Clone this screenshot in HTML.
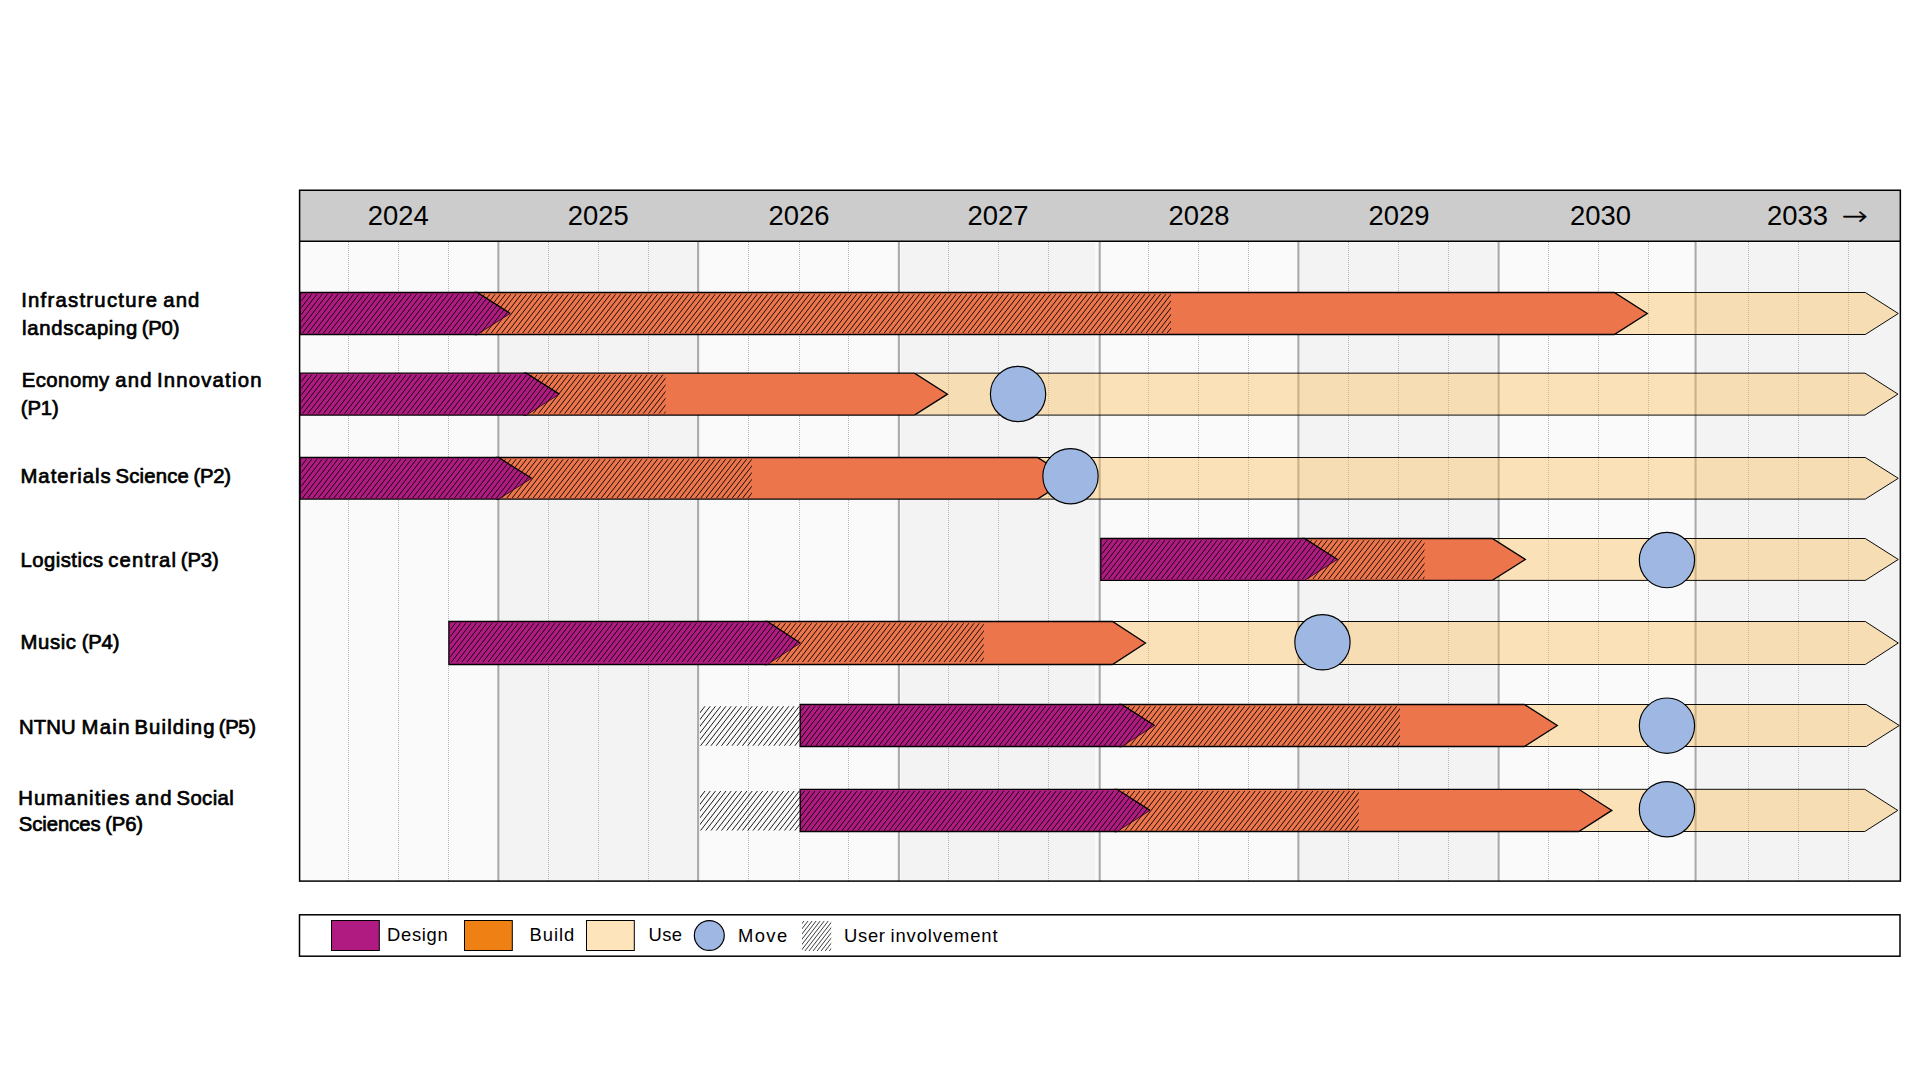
<!DOCTYPE html>
<html lang="en">
<head>
<meta charset="utf-8">
<title>Project timeline</title>
<style>
html,body{margin:0;padding:0;background:#fff;}
body{width:1920px;height:1080px;overflow:hidden;}
svg{display:block;position:absolute;left:0;top:0;}
text{font-family:"Liberation Sans",sans-serif;fill:#000;}
.lbl{font-size:20.3px;stroke:#000;stroke-width:.7px;}
.yr{font-size:27.4px;}
.lg{font-size:18.4px;}
.use{fill-opacity:.4;}
</style>
</head>
<body>
<svg width="1920" height="1080" viewBox="0 0 1920 1080">
<defs>
</defs>
<rect x="299.5" y="190.25" width="1601" height="690.8" fill="#fafafa"/>
<rect x="500.1" y="243" width="196.7" height="638" fill="#f3f3f3"/>
<rect x="901" y="243" width="194.0" height="638" fill="#f3f3f3"/>
<rect x="1299.6" y="243" width="196.9" height="638" fill="#f3f3f3"/>
<rect x="1697.5" y="243" width="202.5" height="638" fill="#f3f3f3"/>
<g stroke="#b4b4b4" stroke-width="1" stroke-dasharray="1 1" fill="none">
<path d="M348.5,242V881"/>
<path d="M398.5,242V881"/>
<path d="M448.5,242V881"/>
<path d="M548.5,242V881"/>
<path d="M598.5,242V881"/>
<path d="M648.5,242V881"/>
<path d="M748.5,242V881"/>
<path d="M799.5,242V881"/>
<path d="M848.5,242V881"/>
<path d="M948.5,242V881"/>
<path d="M998.5,242V881"/>
<path d="M1048.5,242V881"/>
<path d="M1148.5,242V881"/>
<path d="M1198.5,242V881"/>
<path d="M1248.5,242V881"/>
<path d="M1348.5,242V881"/>
<path d="M1398.5,242V881"/>
<path d="M1448.5,242V881"/>
<path d="M1548.5,242V881"/>
<path d="M1598.5,242V881"/>
<path d="M1648.5,242V881"/>
<path d="M1748.5,242V881"/>
<path d="M1798.5,242V881"/>
<path d="M1848.5,242V881"/>
</g>
<g stroke="#aaaaaa" stroke-width="2.1" fill="none">
<path d="M498.4,242V881"/>
<path d="M698.1,242V881"/>
<path d="M898.9,242V881"/>
<path d="M1099.7,242V881"/>
<path d="M1298.4,242V881"/>
<path d="M1498.6,242V881"/>
<path d="M1695.6,242V881"/>
</g>
<g>
<path class="use" d="M1615.3,292.5H1865.3L1898.3,313.5L1865.3,334.5H1615.3Z" fill="#fabc55" stroke="#000" stroke-width="0.95" stroke-linejoin="miter"/>
<path d="M475.2,292.5H1614.3L1647.3,313.5L1614.3,334.5H475.2Z" fill="#ec754c" stroke="#000" stroke-width="1.3" stroke-linejoin="miter"/>
<path d="M300,292.5H477.2L510.2,313.5L477.2,334.5H300Z" fill="#b01b81"/><path d="M510.2,313.5L477.2,334.5" fill="none" stroke="#2a001e" stroke-width="0.8"/><path d="M477.2,334.5H300V292.5H477.2L510.2,313.5" fill="none" stroke="#000" stroke-width="1.3" stroke-linejoin="miter"/>
<clipPath id="hc0"><rect x="301.40" y="294.15" width="869.60" height="38.80"/></clipPath><path clip-path="url(#hc0)" d="M270.38,333.95L302.06,293.15M275.62,333.95L307.30,293.15M280.86,333.95L312.54,293.15M286.10,333.95L317.78,293.15M291.34,333.95L323.02,293.15M296.58,333.95L328.26,293.15M301.82,333.95L333.50,293.15M307.06,333.95L338.74,293.15M312.30,333.95L343.98,293.15M317.54,333.95L349.22,293.15M322.78,333.95L354.46,293.15M328.02,333.95L359.70,293.15M333.26,333.95L364.94,293.15M338.50,333.95L370.18,293.15M343.74,333.95L375.42,293.15M348.98,333.95L380.66,293.15M354.22,333.95L385.90,293.15M359.46,333.95L391.14,293.15M364.70,333.95L396.38,293.15M369.94,333.95L401.62,293.15M375.18,333.95L406.86,293.15M380.42,333.95L412.10,293.15M385.66,333.95L417.34,293.15M390.90,333.95L422.58,293.15M396.14,333.95L427.82,293.15M401.38,333.95L433.06,293.15M406.62,333.95L438.30,293.15M411.86,333.95L443.54,293.15M417.10,333.95L448.78,293.15M422.34,333.95L454.02,293.15M427.58,333.95L459.26,293.15M432.82,333.95L464.50,293.15M438.06,333.95L469.74,293.15M443.30,333.95L474.98,293.15M448.54,333.95L480.22,293.15M453.78,333.95L485.46,293.15M459.02,333.95L490.70,293.15M464.26,333.95L495.94,293.15M469.50,333.95L501.18,293.15M474.74,333.95L506.42,293.15M479.98,333.95L511.66,293.15M485.22,333.95L516.90,293.15M490.46,333.95L522.14,293.15M495.70,333.95L527.38,293.15M500.94,333.95L532.62,293.15M506.18,333.95L537.86,293.15M511.42,333.95L543.10,293.15M516.66,333.95L548.34,293.15M521.90,333.95L553.58,293.15M527.14,333.95L558.82,293.15M532.38,333.95L564.06,293.15M537.62,333.95L569.30,293.15M542.86,333.95L574.54,293.15M548.10,333.95L579.78,293.15M553.34,333.95L585.02,293.15M558.58,333.95L590.26,293.15M563.82,333.95L595.50,293.15M569.06,333.95L600.74,293.15M574.30,333.95L605.98,293.15M579.54,333.95L611.22,293.15M584.78,333.95L616.46,293.15M590.02,333.95L621.70,293.15M595.26,333.95L626.94,293.15M600.50,333.95L632.18,293.15M605.74,333.95L637.42,293.15M610.98,333.95L642.66,293.15M616.22,333.95L647.90,293.15M621.46,333.95L653.14,293.15M626.70,333.95L658.38,293.15M631.94,333.95L663.62,293.15M637.18,333.95L668.86,293.15M642.42,333.95L674.10,293.15M647.66,333.95L679.34,293.15M652.90,333.95L684.58,293.15M658.14,333.95L689.82,293.15M663.38,333.95L695.06,293.15M668.62,333.95L700.30,293.15M673.86,333.95L705.54,293.15M679.10,333.95L710.78,293.15M684.34,333.95L716.02,293.15M689.58,333.95L721.26,293.15M694.82,333.95L726.50,293.15M700.06,333.95L731.74,293.15M705.30,333.95L736.98,293.15M710.54,333.95L742.22,293.15M715.78,333.95L747.46,293.15M721.02,333.95L752.70,293.15M726.26,333.95L757.94,293.15M731.50,333.95L763.18,293.15M736.74,333.95L768.42,293.15M741.98,333.95L773.66,293.15M747.22,333.95L778.90,293.15M752.46,333.95L784.14,293.15M757.70,333.95L789.38,293.15M762.94,333.95L794.62,293.15M768.18,333.95L799.86,293.15M773.42,333.95L805.10,293.15M778.66,333.95L810.34,293.15M783.90,333.95L815.58,293.15M789.14,333.95L820.82,293.15M794.38,333.95L826.06,293.15M799.62,333.95L831.30,293.15M804.86,333.95L836.54,293.15M810.10,333.95L841.78,293.15M815.34,333.95L847.02,293.15M820.58,333.95L852.26,293.15M825.82,333.95L857.50,293.15M831.06,333.95L862.74,293.15M836.30,333.95L867.98,293.15M841.54,333.95L873.22,293.15M846.78,333.95L878.46,293.15M852.02,333.95L883.70,293.15M857.26,333.95L888.94,293.15M862.50,333.95L894.18,293.15M867.74,333.95L899.42,293.15M872.98,333.95L904.66,293.15M878.22,333.95L909.90,293.15M883.46,333.95L915.14,293.15M888.70,333.95L920.38,293.15M893.94,333.95L925.62,293.15M899.18,333.95L930.86,293.15M904.42,333.95L936.10,293.15M909.66,333.95L941.34,293.15M914.90,333.95L946.58,293.15M920.14,333.95L951.82,293.15M925.38,333.95L957.06,293.15M930.62,333.95L962.30,293.15M935.86,333.95L967.54,293.15M941.10,333.95L972.78,293.15M946.34,333.95L978.02,293.15M951.58,333.95L983.26,293.15M956.82,333.95L988.50,293.15M962.06,333.95L993.74,293.15M967.30,333.95L998.98,293.15M972.54,333.95L1004.22,293.15M977.78,333.95L1009.46,293.15M983.02,333.95L1014.70,293.15M988.26,333.95L1019.94,293.15M993.50,333.95L1025.18,293.15M998.74,333.95L1030.42,293.15M1003.98,333.95L1035.66,293.15M1009.22,333.95L1040.90,293.15M1014.46,333.95L1046.14,293.15M1019.70,333.95L1051.38,293.15M1024.94,333.95L1056.62,293.15M1030.18,333.95L1061.86,293.15M1035.42,333.95L1067.10,293.15M1040.66,333.95L1072.34,293.15M1045.90,333.95L1077.58,293.15M1051.14,333.95L1082.82,293.15M1056.38,333.95L1088.06,293.15M1061.62,333.95L1093.30,293.15M1066.86,333.95L1098.54,293.15M1072.10,333.95L1103.78,293.15M1077.34,333.95L1109.02,293.15M1082.58,333.95L1114.26,293.15M1087.82,333.95L1119.50,293.15M1093.06,333.95L1124.74,293.15M1098.30,333.95L1129.98,293.15M1103.54,333.95L1135.22,293.15M1108.78,333.95L1140.46,293.15M1114.02,333.95L1145.70,293.15M1119.26,333.95L1150.94,293.15M1124.50,333.95L1156.18,293.15M1129.74,333.95L1161.42,293.15M1134.98,333.95L1166.66,293.15M1140.22,333.95L1171.90,293.15M1145.46,333.95L1177.14,293.15M1150.70,333.95L1182.38,293.15M1155.94,333.95L1187.62,293.15M1161.18,333.95L1192.86,293.15M1166.42,333.95L1198.10,293.15M1171.66,333.95L1203.34,293.15" stroke="#000" stroke-width="0.9" fill="none"/>
</g>
<g>
<path class="use" d="M915.5,373.15H1865L1898,394.125L1865,415.1H915.5Z" fill="#fabc55" stroke="#000" stroke-width="0.95" stroke-linejoin="miter"/>
<path d="M524.3,373.15H914.5L947.5,394.125L914.5,415.1H524.3Z" fill="#ec754c" stroke="#000" stroke-width="1.3" stroke-linejoin="miter"/>
<path d="M300,373.15H526.3L559.3,394.125L526.3,415.1H300Z" fill="#b01b81"/><path d="M559.3,394.125L526.3,415.1" fill="none" stroke="#2a001e" stroke-width="0.8"/><path d="M526.3,415.1H300V373.15H526.3L559.3,394.125" fill="none" stroke="#000" stroke-width="1.3" stroke-linejoin="miter"/>
<clipPath id="hc1"><rect x="301.40" y="374.80" width="364.10" height="38.80"/></clipPath><path clip-path="url(#hc1)" d="M270.38,414.60L302.06,373.80M275.62,414.60L307.30,373.80M280.86,414.60L312.54,373.80M286.10,414.60L317.78,373.80M291.34,414.60L323.02,373.80M296.58,414.60L328.26,373.80M301.82,414.60L333.50,373.80M307.06,414.60L338.74,373.80M312.30,414.60L343.98,373.80M317.54,414.60L349.22,373.80M322.78,414.60L354.46,373.80M328.02,414.60L359.70,373.80M333.26,414.60L364.94,373.80M338.50,414.60L370.18,373.80M343.74,414.60L375.42,373.80M348.98,414.60L380.66,373.80M354.22,414.60L385.90,373.80M359.46,414.60L391.14,373.80M364.70,414.60L396.38,373.80M369.94,414.60L401.62,373.80M375.18,414.60L406.86,373.80M380.42,414.60L412.10,373.80M385.66,414.60L417.34,373.80M390.90,414.60L422.58,373.80M396.14,414.60L427.82,373.80M401.38,414.60L433.06,373.80M406.62,414.60L438.30,373.80M411.86,414.60L443.54,373.80M417.10,414.60L448.78,373.80M422.34,414.60L454.02,373.80M427.58,414.60L459.26,373.80M432.82,414.60L464.50,373.80M438.06,414.60L469.74,373.80M443.30,414.60L474.98,373.80M448.54,414.60L480.22,373.80M453.78,414.60L485.46,373.80M459.02,414.60L490.70,373.80M464.26,414.60L495.94,373.80M469.50,414.60L501.18,373.80M474.74,414.60L506.42,373.80M479.98,414.60L511.66,373.80M485.22,414.60L516.90,373.80M490.46,414.60L522.14,373.80M495.70,414.60L527.38,373.80M500.94,414.60L532.62,373.80M506.18,414.60L537.86,373.80M511.42,414.60L543.10,373.80M516.66,414.60L548.34,373.80M521.90,414.60L553.58,373.80M527.14,414.60L558.82,373.80M532.38,414.60L564.06,373.80M537.62,414.60L569.30,373.80M542.86,414.60L574.54,373.80M548.10,414.60L579.78,373.80M553.34,414.60L585.02,373.80M558.58,414.60L590.26,373.80M563.82,414.60L595.50,373.80M569.06,414.60L600.74,373.80M574.30,414.60L605.98,373.80M579.54,414.60L611.22,373.80M584.78,414.60L616.46,373.80M590.02,414.60L621.70,373.80M595.26,414.60L626.94,373.80M600.50,414.60L632.18,373.80M605.74,414.60L637.42,373.80M610.98,414.60L642.66,373.80M616.22,414.60L647.90,373.80M621.46,414.60L653.14,373.80M626.70,414.60L658.38,373.80M631.94,414.60L663.62,373.80M637.18,414.60L668.86,373.80M642.42,414.60L674.10,373.80M647.66,414.60L679.34,373.80M652.90,414.60L684.58,373.80M658.14,414.60L689.82,373.80M663.38,414.60L695.06,373.80" stroke="#000" stroke-width="0.9" fill="none"/>
<circle cx="1018.05" cy="393.95" r="27.65" fill="#9fb8e3" stroke="#000" stroke-width="1.15"/>
</g>
<g>
<path class="use" d="M1038.5,457.5H1865.3L1898.3,478.3L1865.3,499.1H1038.5Z" fill="#fabc55" stroke="#000" stroke-width="0.95" stroke-linejoin="miter"/>
<path d="M496.6,457.5H1037.5L1070.5,478.3L1037.5,499.1H496.6Z" fill="#ec754c" stroke="#000" stroke-width="1.3" stroke-linejoin="miter"/>
<path d="M300,457.5H498.6L531.6,478.3L498.6,499.1H300Z" fill="#b01b81"/><path d="M531.6,478.3L498.6,499.1" fill="none" stroke="#2a001e" stroke-width="0.8"/><path d="M498.6,499.1H300V457.5H498.6L531.6,478.3" fill="none" stroke="#000" stroke-width="1.3" stroke-linejoin="miter"/>
<clipPath id="hc2"><rect x="301.40" y="459.15" width="450.40" height="38.80"/></clipPath><path clip-path="url(#hc2)" d="M270.38,498.95L302.06,458.15M275.62,498.95L307.30,458.15M280.86,498.95L312.54,458.15M286.10,498.95L317.78,458.15M291.34,498.95L323.02,458.15M296.58,498.95L328.26,458.15M301.82,498.95L333.50,458.15M307.06,498.95L338.74,458.15M312.30,498.95L343.98,458.15M317.54,498.95L349.22,458.15M322.78,498.95L354.46,458.15M328.02,498.95L359.70,458.15M333.26,498.95L364.94,458.15M338.50,498.95L370.18,458.15M343.74,498.95L375.42,458.15M348.98,498.95L380.66,458.15M354.22,498.95L385.90,458.15M359.46,498.95L391.14,458.15M364.70,498.95L396.38,458.15M369.94,498.95L401.62,458.15M375.18,498.95L406.86,458.15M380.42,498.95L412.10,458.15M385.66,498.95L417.34,458.15M390.90,498.95L422.58,458.15M396.14,498.95L427.82,458.15M401.38,498.95L433.06,458.15M406.62,498.95L438.30,458.15M411.86,498.95L443.54,458.15M417.10,498.95L448.78,458.15M422.34,498.95L454.02,458.15M427.58,498.95L459.26,458.15M432.82,498.95L464.50,458.15M438.06,498.95L469.74,458.15M443.30,498.95L474.98,458.15M448.54,498.95L480.22,458.15M453.78,498.95L485.46,458.15M459.02,498.95L490.70,458.15M464.26,498.95L495.94,458.15M469.50,498.95L501.18,458.15M474.74,498.95L506.42,458.15M479.98,498.95L511.66,458.15M485.22,498.95L516.90,458.15M490.46,498.95L522.14,458.15M495.70,498.95L527.38,458.15M500.94,498.95L532.62,458.15M506.18,498.95L537.86,458.15M511.42,498.95L543.10,458.15M516.66,498.95L548.34,458.15M521.90,498.95L553.58,458.15M527.14,498.95L558.82,458.15M532.38,498.95L564.06,458.15M537.62,498.95L569.30,458.15M542.86,498.95L574.54,458.15M548.10,498.95L579.78,458.15M553.34,498.95L585.02,458.15M558.58,498.95L590.26,458.15M563.82,498.95L595.50,458.15M569.06,498.95L600.74,458.15M574.30,498.95L605.98,458.15M579.54,498.95L611.22,458.15M584.78,498.95L616.46,458.15M590.02,498.95L621.70,458.15M595.26,498.95L626.94,458.15M600.50,498.95L632.18,458.15M605.74,498.95L637.42,458.15M610.98,498.95L642.66,458.15M616.22,498.95L647.90,458.15M621.46,498.95L653.14,458.15M626.70,498.95L658.38,458.15M631.94,498.95L663.62,458.15M637.18,498.95L668.86,458.15M642.42,498.95L674.10,458.15M647.66,498.95L679.34,458.15M652.90,498.95L684.58,458.15M658.14,498.95L689.82,458.15M663.38,498.95L695.06,458.15M668.62,498.95L700.30,458.15M673.86,498.95L705.54,458.15M679.10,498.95L710.78,458.15M684.34,498.95L716.02,458.15M689.58,498.95L721.26,458.15M694.82,498.95L726.50,458.15M700.06,498.95L731.74,458.15M705.30,498.95L736.98,458.15M710.54,498.95L742.22,458.15M715.78,498.95L747.46,458.15M721.02,498.95L752.70,458.15M726.26,498.95L757.94,458.15M731.50,498.95L763.18,458.15M736.74,498.95L768.42,458.15M741.98,498.95L773.66,458.15M747.22,498.95L778.90,458.15M752.46,498.95L784.14,458.15" stroke="#000" stroke-width="0.9" fill="none"/>
<circle cx="1070.5" cy="476.2" r="27.65" fill="#9fb8e3" stroke="#000" stroke-width="1.15"/>
</g>
<g>
<path class="use" d="M1493.3,538.5H1865.3L1898.3,559.45L1865.3,580.4H1493.3Z" fill="#fabc55" stroke="#000" stroke-width="0.95" stroke-linejoin="miter"/>
<path d="M1302.5,538.5H1492.3L1525.3,559.45L1492.3,580.4H1302.5Z" fill="#ec754c" stroke="#000" stroke-width="1.3" stroke-linejoin="miter"/>
<path d="M1100.8,538.5H1304.5L1337.5,559.45L1304.5,580.4H1100.8Z" fill="#b01b81"/><path d="M1337.5,559.45L1304.5,580.4" fill="none" stroke="#2a001e" stroke-width="0.8"/><path d="M1304.5,580.4H1100.8V538.5H1304.5L1337.5,559.45" fill="none" stroke="#000" stroke-width="1.3" stroke-linejoin="miter"/>
<clipPath id="hc3"><rect x="1102.20" y="540.15" width="322.30" height="38.80"/></clipPath><path clip-path="url(#hc3)" d="M1071.18,579.95L1102.86,539.15M1076.42,579.95L1108.10,539.15M1081.66,579.95L1113.34,539.15M1086.90,579.95L1118.58,539.15M1092.14,579.95L1123.82,539.15M1097.38,579.95L1129.06,539.15M1102.62,579.95L1134.30,539.15M1107.86,579.95L1139.54,539.15M1113.10,579.95L1144.78,539.15M1118.34,579.95L1150.02,539.15M1123.58,579.95L1155.26,539.15M1128.82,579.95L1160.50,539.15M1134.06,579.95L1165.74,539.15M1139.30,579.95L1170.98,539.15M1144.54,579.95L1176.22,539.15M1149.78,579.95L1181.46,539.15M1155.02,579.95L1186.70,539.15M1160.26,579.95L1191.94,539.15M1165.50,579.95L1197.18,539.15M1170.74,579.95L1202.42,539.15M1175.98,579.95L1207.66,539.15M1181.22,579.95L1212.90,539.15M1186.46,579.95L1218.14,539.15M1191.70,579.95L1223.38,539.15M1196.94,579.95L1228.62,539.15M1202.18,579.95L1233.86,539.15M1207.42,579.95L1239.10,539.15M1212.66,579.95L1244.34,539.15M1217.90,579.95L1249.58,539.15M1223.14,579.95L1254.82,539.15M1228.38,579.95L1260.06,539.15M1233.62,579.95L1265.30,539.15M1238.86,579.95L1270.54,539.15M1244.10,579.95L1275.78,539.15M1249.34,579.95L1281.02,539.15M1254.58,579.95L1286.26,539.15M1259.82,579.95L1291.50,539.15M1265.06,579.95L1296.74,539.15M1270.30,579.95L1301.98,539.15M1275.54,579.95L1307.22,539.15M1280.78,579.95L1312.46,539.15M1286.02,579.95L1317.70,539.15M1291.26,579.95L1322.94,539.15M1296.50,579.95L1328.18,539.15M1301.74,579.95L1333.42,539.15M1306.98,579.95L1338.66,539.15M1312.22,579.95L1343.90,539.15M1317.46,579.95L1349.14,539.15M1322.70,579.95L1354.38,539.15M1327.94,579.95L1359.62,539.15M1333.18,579.95L1364.86,539.15M1338.42,579.95L1370.10,539.15M1343.66,579.95L1375.34,539.15M1348.90,579.95L1380.58,539.15M1354.14,579.95L1385.82,539.15M1359.38,579.95L1391.06,539.15M1364.62,579.95L1396.30,539.15M1369.86,579.95L1401.54,539.15M1375.10,579.95L1406.78,539.15M1380.34,579.95L1412.02,539.15M1385.58,579.95L1417.26,539.15M1390.82,579.95L1422.50,539.15M1396.06,579.95L1427.74,539.15M1401.30,579.95L1432.98,539.15M1406.54,579.95L1438.22,539.15M1411.78,579.95L1443.46,539.15M1417.02,579.95L1448.70,539.15M1422.26,579.95L1453.94,539.15" stroke="#000" stroke-width="0.9" fill="none"/>
<circle cx="1666.95" cy="560.1" r="27.65" fill="#9fb8e3" stroke="#000" stroke-width="1.15"/>
</g>
<g>
<path class="use" d="M1113.5,621.5H1865.3L1898.3,643.0L1865.3,664.5H1113.5Z" fill="#fabc55" stroke="#000" stroke-width="0.95" stroke-linejoin="miter"/>
<path d="M765.3,621.5H1112.5L1145.5,643.0L1112.5,664.5H765.3Z" fill="#ec754c" stroke="#000" stroke-width="1.3" stroke-linejoin="miter"/>
<path d="M448.9,621.5H767.3L800.3,643.0L767.3,664.5H448.9Z" fill="#b01b81"/><path d="M800.3,643.0L767.3,664.5" fill="none" stroke="#2a001e" stroke-width="0.8"/><path d="M767.3,664.5H448.9V621.5H767.3L800.3,643.0" fill="none" stroke="#000" stroke-width="1.3" stroke-linejoin="miter"/>
<clipPath id="hc4"><rect x="450.30" y="623.15" width="533.50" height="38.80"/></clipPath><path clip-path="url(#hc4)" d="M419.28,662.95L450.96,622.15M424.52,662.95L456.20,622.15M429.76,662.95L461.44,622.15M435.00,662.95L466.68,622.15M440.24,662.95L471.92,622.15M445.48,662.95L477.16,622.15M450.72,662.95L482.40,622.15M455.96,662.95L487.64,622.15M461.20,662.95L492.88,622.15M466.44,662.95L498.12,622.15M471.68,662.95L503.36,622.15M476.92,662.95L508.60,622.15M482.16,662.95L513.84,622.15M487.40,662.95L519.08,622.15M492.64,662.95L524.32,622.15M497.88,662.95L529.56,622.15M503.12,662.95L534.80,622.15M508.36,662.95L540.04,622.15M513.60,662.95L545.28,622.15M518.84,662.95L550.52,622.15M524.08,662.95L555.76,622.15M529.32,662.95L561.00,622.15M534.56,662.95L566.24,622.15M539.80,662.95L571.48,622.15M545.04,662.95L576.72,622.15M550.28,662.95L581.96,622.15M555.52,662.95L587.20,622.15M560.76,662.95L592.44,622.15M566.00,662.95L597.68,622.15M571.24,662.95L602.92,622.15M576.48,662.95L608.16,622.15M581.72,662.95L613.40,622.15M586.96,662.95L618.64,622.15M592.20,662.95L623.88,622.15M597.44,662.95L629.12,622.15M602.68,662.95L634.36,622.15M607.92,662.95L639.60,622.15M613.16,662.95L644.84,622.15M618.40,662.95L650.08,622.15M623.64,662.95L655.32,622.15M628.88,662.95L660.56,622.15M634.12,662.95L665.80,622.15M639.36,662.95L671.04,622.15M644.60,662.95L676.28,622.15M649.84,662.95L681.52,622.15M655.08,662.95L686.76,622.15M660.32,662.95L692.00,622.15M665.56,662.95L697.24,622.15M670.80,662.95L702.48,622.15M676.04,662.95L707.72,622.15M681.28,662.95L712.96,622.15M686.52,662.95L718.20,622.15M691.76,662.95L723.44,622.15M697.00,662.95L728.68,622.15M702.24,662.95L733.92,622.15M707.48,662.95L739.16,622.15M712.72,662.95L744.40,622.15M717.96,662.95L749.64,622.15M723.20,662.95L754.88,622.15M728.44,662.95L760.12,622.15M733.68,662.95L765.36,622.15M738.92,662.95L770.60,622.15M744.16,662.95L775.84,622.15M749.40,662.95L781.08,622.15M754.64,662.95L786.32,622.15M759.88,662.95L791.56,622.15M765.12,662.95L796.80,622.15M770.36,662.95L802.04,622.15M775.60,662.95L807.28,622.15M780.84,662.95L812.52,622.15M786.08,662.95L817.76,622.15M791.32,662.95L823.00,622.15M796.56,662.95L828.24,622.15M801.80,662.95L833.48,622.15M807.04,662.95L838.72,622.15M812.28,662.95L843.96,622.15M817.52,662.95L849.20,622.15M822.76,662.95L854.44,622.15M828.00,662.95L859.68,622.15M833.24,662.95L864.92,622.15M838.48,662.95L870.16,622.15M843.72,662.95L875.40,622.15M848.96,662.95L880.64,622.15M854.20,662.95L885.88,622.15M859.44,662.95L891.12,622.15M864.68,662.95L896.36,622.15M869.92,662.95L901.60,622.15M875.16,662.95L906.84,622.15M880.40,662.95L912.08,622.15M885.64,662.95L917.32,622.15M890.88,662.95L922.56,622.15M896.12,662.95L927.80,622.15M901.36,662.95L933.04,622.15M906.60,662.95L938.28,622.15M911.84,662.95L943.52,622.15M917.08,662.95L948.76,622.15M922.32,662.95L954.00,622.15M927.56,662.95L959.24,622.15M932.80,662.95L964.48,622.15M938.04,662.95L969.72,622.15M943.28,662.95L974.96,622.15M948.52,662.95L980.20,622.15M953.76,662.95L985.44,622.15M959.00,662.95L990.68,622.15M964.24,662.95L995.92,622.15M969.48,662.95L1001.16,622.15M974.72,662.95L1006.40,622.15M979.96,662.95L1011.64,622.15" stroke="#000" stroke-width="0.9" fill="none"/>
<circle cx="1322.45" cy="642.3" r="27.65" fill="#9fb8e3" stroke="#000" stroke-width="1.15"/>
</g>
<g>
<path class="use" d="M1525.3,704.5H1866.3L1899.3,725.5L1866.3,746.5H1525.3Z" fill="#fabc55" stroke="#000" stroke-width="0.95" stroke-linejoin="miter"/>
<path d="M1119.6,704.5H1524.3L1557.3,725.5L1524.3,746.5H1119.6Z" fill="#ec754c" stroke="#000" stroke-width="1.3" stroke-linejoin="miter"/>
<path d="M800.2,704.5H1121.6L1154.6,725.5L1121.6,746.5H800.2Z" fill="#b01b81"/><path d="M1154.6,725.5L1121.6,746.5" fill="none" stroke="#2a001e" stroke-width="0.8"/><path d="M1121.6,746.5H800.2V704.5H1121.6L1154.6,725.5" fill="none" stroke="#000" stroke-width="1.3" stroke-linejoin="miter"/>
<clipPath id="hc5"><rect x="700.00" y="706.15" width="700.00" height="39.50"/></clipPath><path clip-path="url(#hc5)" d="M668.38,746.65L700.60,705.15M673.62,746.65L705.84,705.15M678.86,746.65L711.08,705.15M684.10,746.65L716.32,705.15M689.34,746.65L721.56,705.15M694.58,746.65L726.80,705.15M699.82,746.65L732.04,705.15M705.06,746.65L737.28,705.15M710.30,746.65L742.52,705.15M715.54,746.65L747.76,705.15M720.78,746.65L753.00,705.15M726.02,746.65L758.24,705.15M731.26,746.65L763.48,705.15M736.50,746.65L768.72,705.15M741.74,746.65L773.96,705.15M746.98,746.65L779.20,705.15M752.22,746.65L784.44,705.15M757.46,746.65L789.68,705.15M762.70,746.65L794.92,705.15M767.94,746.65L800.16,705.15M773.18,746.65L805.40,705.15M778.42,746.65L810.64,705.15M783.66,746.65L815.88,705.15M788.90,746.65L821.12,705.15M794.14,746.65L826.36,705.15M799.38,746.65L831.60,705.15M804.62,746.65L836.84,705.15M809.86,746.65L842.08,705.15M815.10,746.65L847.32,705.15M820.34,746.65L852.56,705.15M825.58,746.65L857.80,705.15M830.82,746.65L863.04,705.15M836.06,746.65L868.28,705.15M841.30,746.65L873.52,705.15M846.54,746.65L878.76,705.15M851.78,746.65L884.00,705.15M857.02,746.65L889.24,705.15M862.26,746.65L894.48,705.15M867.50,746.65L899.72,705.15M872.74,746.65L904.96,705.15M877.98,746.65L910.20,705.15M883.22,746.65L915.44,705.15M888.46,746.65L920.68,705.15M893.70,746.65L925.92,705.15M898.94,746.65L931.16,705.15M904.18,746.65L936.40,705.15M909.42,746.65L941.64,705.15M914.66,746.65L946.88,705.15M919.90,746.65L952.12,705.15M925.14,746.65L957.36,705.15M930.38,746.65L962.60,705.15M935.62,746.65L967.84,705.15M940.86,746.65L973.08,705.15M946.10,746.65L978.32,705.15M951.34,746.65L983.56,705.15M956.58,746.65L988.80,705.15M961.82,746.65L994.04,705.15M967.06,746.65L999.28,705.15M972.30,746.65L1004.52,705.15M977.54,746.65L1009.76,705.15M982.78,746.65L1015.00,705.15M988.02,746.65L1020.24,705.15M993.26,746.65L1025.48,705.15M998.50,746.65L1030.72,705.15M1003.74,746.65L1035.96,705.15M1008.98,746.65L1041.20,705.15M1014.22,746.65L1046.44,705.15M1019.46,746.65L1051.68,705.15M1024.70,746.65L1056.92,705.15M1029.94,746.65L1062.16,705.15M1035.18,746.65L1067.40,705.15M1040.42,746.65L1072.64,705.15M1045.66,746.65L1077.88,705.15M1050.90,746.65L1083.12,705.15M1056.14,746.65L1088.36,705.15M1061.38,746.65L1093.60,705.15M1066.62,746.65L1098.84,705.15M1071.86,746.65L1104.08,705.15M1077.10,746.65L1109.32,705.15M1082.34,746.65L1114.56,705.15M1087.58,746.65L1119.80,705.15M1092.82,746.65L1125.04,705.15M1098.06,746.65L1130.28,705.15M1103.30,746.65L1135.52,705.15M1108.54,746.65L1140.76,705.15M1113.78,746.65L1146.00,705.15M1119.02,746.65L1151.24,705.15M1124.26,746.65L1156.48,705.15M1129.50,746.65L1161.72,705.15M1134.74,746.65L1166.96,705.15M1139.98,746.65L1172.20,705.15M1145.22,746.65L1177.44,705.15M1150.46,746.65L1182.68,705.15M1155.70,746.65L1187.92,705.15M1160.94,746.65L1193.16,705.15M1166.18,746.65L1198.40,705.15M1171.42,746.65L1203.64,705.15M1176.66,746.65L1208.88,705.15M1181.90,746.65L1214.12,705.15M1187.14,746.65L1219.36,705.15M1192.38,746.65L1224.60,705.15M1197.62,746.65L1229.84,705.15M1202.86,746.65L1235.08,705.15M1208.10,746.65L1240.32,705.15M1213.34,746.65L1245.56,705.15M1218.58,746.65L1250.80,705.15M1223.82,746.65L1256.04,705.15M1229.06,746.65L1261.28,705.15M1234.30,746.65L1266.52,705.15M1239.54,746.65L1271.76,705.15M1244.78,746.65L1277.00,705.15M1250.02,746.65L1282.24,705.15M1255.26,746.65L1287.48,705.15M1260.50,746.65L1292.72,705.15M1265.74,746.65L1297.96,705.15M1270.98,746.65L1303.20,705.15M1276.22,746.65L1308.44,705.15M1281.46,746.65L1313.68,705.15M1286.70,746.65L1318.92,705.15M1291.94,746.65L1324.16,705.15M1297.18,746.65L1329.40,705.15M1302.42,746.65L1334.64,705.15M1307.66,746.65L1339.88,705.15M1312.90,746.65L1345.12,705.15M1318.14,746.65L1350.36,705.15M1323.38,746.65L1355.60,705.15M1328.62,746.65L1360.84,705.15M1333.86,746.65L1366.08,705.15M1339.10,746.65L1371.32,705.15M1344.34,746.65L1376.56,705.15M1349.58,746.65L1381.80,705.15M1354.82,746.65L1387.04,705.15M1360.06,746.65L1392.28,705.15M1365.30,746.65L1397.52,705.15M1370.54,746.65L1402.76,705.15M1375.78,746.65L1408.00,705.15M1381.02,746.65L1413.24,705.15M1386.26,746.65L1418.48,705.15M1391.50,746.65L1423.72,705.15M1396.74,746.65L1428.96,705.15" stroke="#000" stroke-width="0.9" fill="none"/>
<circle cx="1666.95" cy="725.65" r="27.65" fill="#9fb8e3" stroke="#000" stroke-width="1.15"/>
</g>
<g>
<path class="use" d="M1579.8,789.3H1864.8L1897.8,810.4L1864.8,831.5H1579.8Z" fill="#fabc55" stroke="#000" stroke-width="0.95" stroke-linejoin="miter"/>
<path d="M1115,789.3H1578.8L1611.8,810.4L1578.8,831.5H1115Z" fill="#ec754c" stroke="#000" stroke-width="1.3" stroke-linejoin="miter"/>
<path d="M800.2,789.3H1117L1150,810.4L1117,831.5H800.2Z" fill="#b01b81"/><path d="M1150,810.4L1117,831.5" fill="none" stroke="#2a001e" stroke-width="0.8"/><path d="M1117,831.5H800.2V789.3H1117L1150,810.4" fill="none" stroke="#000" stroke-width="1.3" stroke-linejoin="miter"/>
<clipPath id="hc6"><rect x="700.00" y="790.95" width="658.80" height="39.50"/></clipPath><path clip-path="url(#hc6)" d="M668.38,831.45L700.60,789.95M673.62,831.45L705.84,789.95M678.86,831.45L711.08,789.95M684.10,831.45L716.32,789.95M689.34,831.45L721.56,789.95M694.58,831.45L726.80,789.95M699.82,831.45L732.04,789.95M705.06,831.45L737.28,789.95M710.30,831.45L742.52,789.95M715.54,831.45L747.76,789.95M720.78,831.45L753.00,789.95M726.02,831.45L758.24,789.95M731.26,831.45L763.48,789.95M736.50,831.45L768.72,789.95M741.74,831.45L773.96,789.95M746.98,831.45L779.20,789.95M752.22,831.45L784.44,789.95M757.46,831.45L789.68,789.95M762.70,831.45L794.92,789.95M767.94,831.45L800.16,789.95M773.18,831.45L805.40,789.95M778.42,831.45L810.64,789.95M783.66,831.45L815.88,789.95M788.90,831.45L821.12,789.95M794.14,831.45L826.36,789.95M799.38,831.45L831.60,789.95M804.62,831.45L836.84,789.95M809.86,831.45L842.08,789.95M815.10,831.45L847.32,789.95M820.34,831.45L852.56,789.95M825.58,831.45L857.80,789.95M830.82,831.45L863.04,789.95M836.06,831.45L868.28,789.95M841.30,831.45L873.52,789.95M846.54,831.45L878.76,789.95M851.78,831.45L884.00,789.95M857.02,831.45L889.24,789.95M862.26,831.45L894.48,789.95M867.50,831.45L899.72,789.95M872.74,831.45L904.96,789.95M877.98,831.45L910.20,789.95M883.22,831.45L915.44,789.95M888.46,831.45L920.68,789.95M893.70,831.45L925.92,789.95M898.94,831.45L931.16,789.95M904.18,831.45L936.40,789.95M909.42,831.45L941.64,789.95M914.66,831.45L946.88,789.95M919.90,831.45L952.12,789.95M925.14,831.45L957.36,789.95M930.38,831.45L962.60,789.95M935.62,831.45L967.84,789.95M940.86,831.45L973.08,789.95M946.10,831.45L978.32,789.95M951.34,831.45L983.56,789.95M956.58,831.45L988.80,789.95M961.82,831.45L994.04,789.95M967.06,831.45L999.28,789.95M972.30,831.45L1004.52,789.95M977.54,831.45L1009.76,789.95M982.78,831.45L1015.00,789.95M988.02,831.45L1020.24,789.95M993.26,831.45L1025.48,789.95M998.50,831.45L1030.72,789.95M1003.74,831.45L1035.96,789.95M1008.98,831.45L1041.20,789.95M1014.22,831.45L1046.44,789.95M1019.46,831.45L1051.68,789.95M1024.70,831.45L1056.92,789.95M1029.94,831.45L1062.16,789.95M1035.18,831.45L1067.40,789.95M1040.42,831.45L1072.64,789.95M1045.66,831.45L1077.88,789.95M1050.90,831.45L1083.12,789.95M1056.14,831.45L1088.36,789.95M1061.38,831.45L1093.60,789.95M1066.62,831.45L1098.84,789.95M1071.86,831.45L1104.08,789.95M1077.10,831.45L1109.32,789.95M1082.34,831.45L1114.56,789.95M1087.58,831.45L1119.80,789.95M1092.82,831.45L1125.04,789.95M1098.06,831.45L1130.28,789.95M1103.30,831.45L1135.52,789.95M1108.54,831.45L1140.76,789.95M1113.78,831.45L1146.00,789.95M1119.02,831.45L1151.24,789.95M1124.26,831.45L1156.48,789.95M1129.50,831.45L1161.72,789.95M1134.74,831.45L1166.96,789.95M1139.98,831.45L1172.20,789.95M1145.22,831.45L1177.44,789.95M1150.46,831.45L1182.68,789.95M1155.70,831.45L1187.92,789.95M1160.94,831.45L1193.16,789.95M1166.18,831.45L1198.40,789.95M1171.42,831.45L1203.64,789.95M1176.66,831.45L1208.88,789.95M1181.90,831.45L1214.12,789.95M1187.14,831.45L1219.36,789.95M1192.38,831.45L1224.60,789.95M1197.62,831.45L1229.84,789.95M1202.86,831.45L1235.08,789.95M1208.10,831.45L1240.32,789.95M1213.34,831.45L1245.56,789.95M1218.58,831.45L1250.80,789.95M1223.82,831.45L1256.04,789.95M1229.06,831.45L1261.28,789.95M1234.30,831.45L1266.52,789.95M1239.54,831.45L1271.76,789.95M1244.78,831.45L1277.00,789.95M1250.02,831.45L1282.24,789.95M1255.26,831.45L1287.48,789.95M1260.50,831.45L1292.72,789.95M1265.74,831.45L1297.96,789.95M1270.98,831.45L1303.20,789.95M1276.22,831.45L1308.44,789.95M1281.46,831.45L1313.68,789.95M1286.70,831.45L1318.92,789.95M1291.94,831.45L1324.16,789.95M1297.18,831.45L1329.40,789.95M1302.42,831.45L1334.64,789.95M1307.66,831.45L1339.88,789.95M1312.90,831.45L1345.12,789.95M1318.14,831.45L1350.36,789.95M1323.38,831.45L1355.60,789.95M1328.62,831.45L1360.84,789.95M1333.86,831.45L1366.08,789.95M1339.10,831.45L1371.32,789.95M1344.34,831.45L1376.56,789.95M1349.58,831.45L1381.80,789.95M1354.82,831.45L1387.04,789.95" stroke="#000" stroke-width="0.9" fill="none"/>
<circle cx="1666.95" cy="809.2" r="27.65" fill="#9fb8e3" stroke="#000" stroke-width="1.15"/>
</g>
<rect x="299.5" y="190.25" width="1601" height="50.8" fill="#cccccc"/>
<path d="M299.5,241.25H1900.5" stroke="#000" stroke-width="1.5" fill="none"/>
<rect x="299.6" y="190.25" width="1600.75" height="690.85" fill="none" stroke="#000" stroke-width="1.5"/>
<text class="yr" x="398.3" y="225.3" text-anchor="middle">2024</text>
<text class="yr" x="598.3" y="225.3" text-anchor="middle">2025</text>
<text class="yr" x="799" y="225.3" text-anchor="middle">2026</text>
<text class="yr" x="998" y="225.3" text-anchor="middle">2027</text>
<text class="yr" x="1199" y="225.3" text-anchor="middle">2028</text>
<text class="yr" x="1399" y="225.3" text-anchor="middle">2029</text>
<text class="yr" x="1600.5" y="225.3" text-anchor="middle">2030</text>
<text class="yr" x="1797.5" y="225.3" text-anchor="middle">2033</text>
<text transform="translate(1842 224.5) scale(1.19 1)" style="font-family:'DejaVu Sans Light','DejaVu Sans',sans-serif;font-weight:200;font-size:26px;stroke:#000;stroke-width:.4px">→</text>
<text class="lbl" y="307"><tspan x="21.15" textLength="135.90" lengthAdjust="spacing">Infrastructure</tspan> <tspan x="163.31" textLength="36.05" lengthAdjust="spacing">and</tspan></text>
<text class="lbl" y="335"><tspan x="22.00" textLength="115.36" lengthAdjust="spacing">landscaping</tspan> <tspan x="141.63" textLength="37.84" lengthAdjust="spacing">(P0)</tspan></text>
<text class="lbl" y="387.2"><tspan x="21.70" textLength="87.50" lengthAdjust="spacing">Economy</tspan> <tspan x="115.17" textLength="36.48" lengthAdjust="spacing">and</tspan> <tspan x="156.90" textLength="104.55" lengthAdjust="spacing">Innovation</tspan></text>
<text class="lbl" y="415"><tspan x="20.83" textLength="37.90" lengthAdjust="spacing">(P1)</tspan></text>
<text class="lbl" y="483"><tspan x="20.47" textLength="90.20" lengthAdjust="spacing">Materials</tspan> <tspan x="115.62" textLength="73.13" lengthAdjust="spacing">Science</tspan> <tspan x="193.47" textLength="37.48" lengthAdjust="spacing">(P2)</tspan></text>
<text class="lbl" y="567"><tspan x="20.47" textLength="82.68" lengthAdjust="spacing">Logistics</tspan> <tspan x="108.36" textLength="67.61" lengthAdjust="spacing">central</tspan> <tspan x="180.83" textLength="37.90" lengthAdjust="spacing">(P3)</tspan></text>
<text class="lbl" y="649"><tspan x="20.47" textLength="55.53" lengthAdjust="spacing">Music</tspan> <tspan x="81.63" textLength="37.84" lengthAdjust="spacing">(P4)</tspan></text>
<text class="lbl" y="734.2"><tspan x="19.11" textLength="56.47" lengthAdjust="spacing">NTNU</tspan> <tspan x="81.47" textLength="47.98" lengthAdjust="spacing">Main</tspan> <tspan x="134.45" textLength="80.04" lengthAdjust="spacing">Building</tspan> <tspan x="218.75" textLength="37.20" lengthAdjust="spacing">(P5)</tspan></text>
<text class="lbl" y="805"><tspan x="18.29" textLength="111.12" lengthAdjust="spacing">Humanities</tspan> <tspan x="135.17" textLength="36.48" lengthAdjust="spacing">and</tspan> <tspan x="176.48" textLength="57.34" lengthAdjust="spacing">Social</tspan></text>
<text class="lbl" y="831.3"><tspan x="18.64" textLength="82.03" lengthAdjust="spacing">Sciences</tspan> <tspan x="105.30" textLength="37.65" lengthAdjust="spacing">(P6)</tspan></text>
<rect x="299.5" y="914.8" width="1600.5" height="41.4" fill="#fff" stroke="#000" stroke-width="1.5"/>
<rect x="331.5" y="920.5" width="47.8" height="30" fill="#b01b81" stroke="#000" stroke-width="1"/>
<rect x="464.5" y="920.5" width="47.8" height="30" fill="#ef8114" stroke="#000" stroke-width="1"/>
<rect class="use" x="586.5" y="920.5" width="47.8" height="30" fill="#fabc55" stroke="#000" stroke-width="1"/>
<circle cx="709.3" cy="935.5" r="14.95" fill="#9fb8e3" stroke="#000" stroke-width="1.2"/>
<clipPath id="hc99"><rect x="802.00" y="920.90" width="29.20" height="30.00"/></clipPath><path clip-path="url(#hc99)" d="M779.92,951.90L804.84,919.90M783.97,951.90L808.89,919.90M788.02,951.90L812.94,919.90M792.07,951.90L816.99,919.90M796.12,951.90L821.04,919.90M800.17,951.90L825.09,919.90M804.22,951.90L829.14,919.90M808.27,951.90L833.19,919.90M812.32,951.90L837.24,919.90M816.37,951.90L841.29,919.90M820.42,951.90L845.34,919.90M824.47,951.90L849.39,919.90M828.52,951.90L853.44,919.90" stroke="#1a1a1a" stroke-width="0.85" fill="none"/>
<text class="lg" y="941"><tspan x="387.07" textLength="60.67" lengthAdjust="spacing">Design</tspan></text>
<text class="lg" y="941"><tspan x="529.56" textLength="44.56" lengthAdjust="spacing">Build</tspan></text>
<text class="lg" y="941"><tspan x="648.60" textLength="33.29" lengthAdjust="spacing">Use</tspan></text>
<text class="lg" y="941.9"><tspan x="738.07" textLength="49.09" lengthAdjust="spacing">Move</tspan></text>
<text class="lg" y="941.9"><tspan x="844.08" textLength="40.85" lengthAdjust="spacing">User</tspan> <tspan x="890.52" textLength="107.05" lengthAdjust="spacing">involvement</tspan></text>
</svg>
</body>
</html>
